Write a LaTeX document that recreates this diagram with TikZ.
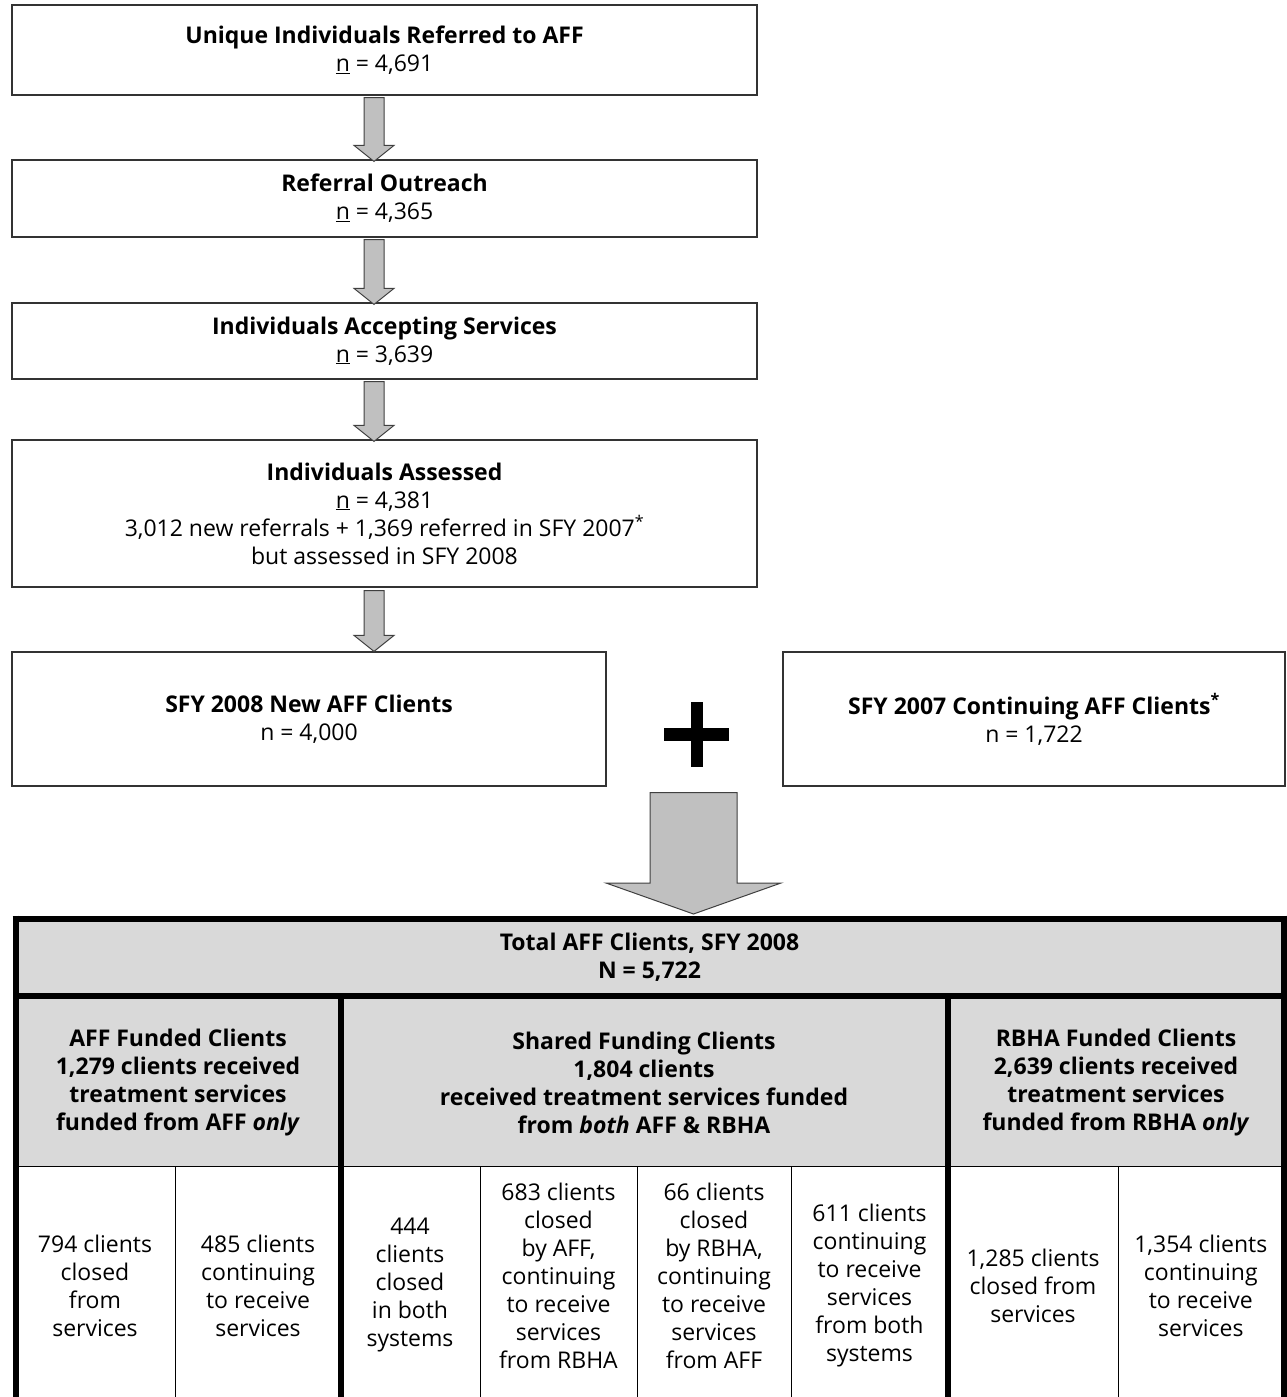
\documentclass[tikz,border=0pt]{standalone}
\usepackage{fontspec}
\setmainfont{Open Sans}
\usetikzlibrary{calc}
\definecolor{hdrgray}{RGB}{217,217,217}
\definecolor{arrgray}{RGB}{192,192,192}
\newcommand\blockarr[5]{%
  \path[garrow] let \p1=(#1), \p2=(#2) in
    (\x1-#3pt,\y1) -- (\x1+#3pt,\y1) -- (\x1+#3pt,\y2+#5pt) -- (\x1+#4pt,\y2+#5pt)
    -- (\x1,\y2) -- (\x1-#4pt,\y2+#5pt) -- (\x1-#3pt,\y2+#5pt) -- cycle;}
\begin{document}
\begin{tikzpicture}[x=1pt,y=-1pt,
  box/.style={draw=black!80,line width=1.2pt,fill=white,align=center,inner sep=0pt,
    font=\fontsize{23}{28}\selectfont},
  garrow/.style={draw=black!75,line width=1pt,fill=arrgray,line join=miter},
  tline/.style={line width=6pt,black},
  fline/.style={line width=1pt,black},
  txt/.style={align=center,inner sep=0pt,font=\fontsize{23}{28}\selectfont},
  btxt/.style={align=center,inner sep=0pt,font=\fontsize{23}{28}\selectfont\bfseries}]
\useasboundingbox (0,0) rectangle (1286,1397);
% flow boxes
\node[box,minimum width=745pt,minimum height=90pt] (b1) at (384.5,50)
  {\textbf{Unique Individuals Referred to AFF}\\\underline{n} = 4,691};
\node[box,minimum width=745pt,minimum height=77pt] (b2) at (384.5,198.5)
  {\textbf{Referral Outreach}\\\underline{n} = 4,365};
\node[box,minimum width=745pt,minimum height=76pt] (b3) at (384.5,341)
  {\textbf{Individuals Accepting Services}\\\underline{n} = 3,639};
\node[box,minimum width=745pt,minimum height=147pt] (b4) at (384.5,513.5)
  {\textbf{Individuals Assessed}\\\underline{n} = 4,381\\
   3,012 new referrals + 1,369 referred in SFY 2007\textsuperscript{*}\\but assessed in SFY 2008};
\node[box,minimum width=594pt,minimum height=134pt] (b5) at (309,719)
  {\textbf{SFY 2008 New AFF Clients}\\n = 4,000};
\node[box,minimum width=502pt,minimum height=134pt] (b6) at (1034,719)
  {\textbf{SFY 2007 Continuing AFF Clients\textsuperscript{*}}\\n = 1,722};
% arrow column
\coordinate (ax) at (374,0);
\blockarr{$(b1.south -| ax)+(0,2)$}{$(b2.north -| ax)+(0,2)$}{10}{20}{16}
\blockarr{$(b2.south -| ax)+(0,2)$}{$(b3.north -| ax)+(0,2)$}{10}{20}{16}
\blockarr{$(b3.south -| ax)+(0,2)$}{$(b4.north -| ax)+(0,2)$}{10}{20}{16}
\blockarr{$(b4.south -| ax)+(0,3)$}{$(b5.north -| ax)+(0,0)$}{10}{20}{16}
% plus
\node[inner sep=0pt,minimum size=0pt] (plus) at (697,735) {};
\fill ($(plus)+(-6,-33)$) rectangle ($(plus)+(6,32)$);
\fill ($(plus)+(-33,-7)$) rectangle ($(plus)+(32,6)$);
% table
\fill[hdrgray] (15.5,918.5) rectangle (1283.5,1166);
\coordinate (bx) at (693.5,0);
\coordinate (ttop) at (693.5,914);
\blockarr{$(b5.south -| bx)+(0,6)$}{ttop}{43.5}{87.5}{31}
\draw[fline] (15.5,1166) -- (1283.5,1166);
\foreach \xx in {175,480,637,791,1118} \draw[fline] (\xx,1166) -- (\xx,1397);
\draw[tline] (12.5,918.5) -- (1286,918.5);
\draw[tline] (15.5,915.5) -- (15.5,1397);
\draw[tline] (1283.5,915.5) -- (1283.5,1397);
\draw[tline] (15.5,996) -- (1283.5,996);
\draw[tline] (340.5,996) -- (340.5,1397);
\draw[tline] (948,996) -- (948,1397);
% table texts
\node[btxt] (hdr) at (649.5,957) {Total AFF Clients, SFY 2008\\N = 5,722};
\node[btxt] (aff) at (178,1083) {AFF Funded Clients\\1,279 clients received\\treatment services\\funded from AFF \textit{only}};
\node[btxt] (shr) at (644,1083) {Shared Funding Clients\\1,804 clients\\received treatment services funded\\from \textit{both} AFF \& RBHA};
\node[btxt] (rbh) at (1116,1083) {RBHA Funded Clients\\2,639 clients received\\treatment services\\funded from RBHA \textit{only}};
\node[txt] (c1) at (95,1286) {794 clients\\closed\\from\\services};
\node[txt] (c2) at (258,1286) {485 clients\\continuing\\to receive\\services};
\node[txt] (c3) at (410,1285) {444\\clients\\closed\\in both\\systems};
\node[txt] (c4) at (558.5,1276) {683 clients\\closed\\by AFF,\\continuing\\to receive\\services\\from RBHA};
\node[txt] (c5) at (714,1276) {66 clients\\closed\\by RBHA,\\continuing\\to receive\\services\\from AFF};
\node[txt] (c6) at (869.5,1286) {611 clients\\continuing\\to receive\\services\\from both\\systems};
\node[txt] (c7) at (1033,1286) {1,285 clients\\closed from\\services};
\node[txt] (c8) at (1200.75,1286) {1,354 clients\\continuing\\to receive\\services};
\end{tikzpicture}
\end{document}
